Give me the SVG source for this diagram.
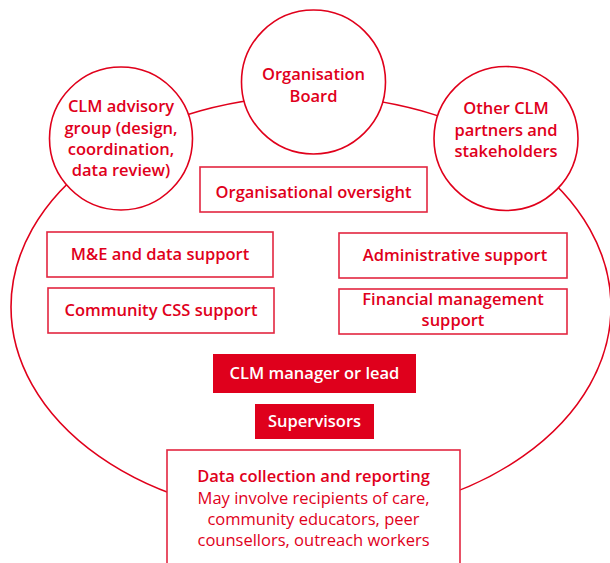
<svg xmlns="http://www.w3.org/2000/svg" width="610" height="563" viewBox="0 0 610 563">
<style>
text{font-family:"Open Sans","Liberation Sans",sans-serif;fill:#E0001B;text-anchor:middle;font-weight:600;font-size:16.5px}
.c{fill:#fff;stroke:#E0001B;stroke-width:1.6}
.r{fill:#fff;stroke:#E32640;stroke-width:1.6}
.f{fill:#DF001C}
.w{fill:#fff}
.n{font-weight:400}
.ring{fill:none;stroke:#E0001B;stroke-width:1.6}
</style>
<rect width="610" height="563" fill="#fff"/>
<g id="connectors">
<ellipse class="ring" cx="311" cy="307" rx="300" ry="211"/>
</g>
<g id="advisory">
<circle class="c" cx="121" cy="138.5" r="71.5"/>
<text x="121" y="112">CLM advisory</text>
<text x="121" y="134">group (design,</text>
<text x="121" y="155">coordination,</text>
<text x="121" y="176">data review)</text>
</g>
<g id="board">
<circle class="c" cx="313.5" cy="82" r="72"/>
<text x="313.5" y="80">Organisation</text>
<text x="313.5" y="102">Board</text>
</g>
<g id="partners">
<circle class="c" cx="506" cy="138.5" r="72"/>
<text x="506" y="114">Other CLM</text>
<text x="506" y="136">partners and</text>
<text x="506" y="157">stakeholders</text>
</g>
<g id="oversight">
<rect class="r" x="200" y="167" width="227" height="45"/>
<text x="313.5" y="198">Organisational oversight</text>
</g>
<g id="me">
<rect class="r" x="47" y="232" width="226" height="45"/>
<text x="160" y="260">M&amp;E and data support</text>
</g>
<g id="css">
<rect class="r" x="48" y="288" width="226" height="45"/>
<text x="161" y="316">Community CSS support</text>
</g>
<g id="admin">
<rect class="r" x="339" y="233" width="228" height="45"/>
<text x="455" y="261">Administrative support</text>
</g>
<g id="finance">
<rect class="r" x="339" y="289" width="228" height="45"/>
<text x="453" y="305">Financial management</text>
<text x="453" y="326">support</text>
</g>
<g id="manager">
<rect class="f" x="213" y="354" width="203" height="39"/>
<text class="w" x="314.5" y="379">CLM manager or lead</text>
</g>
<g id="supervisors">
<rect class="f" x="255" y="404" width="119" height="35"/>
<text class="w" x="314.5" y="427">Supervisors</text>
</g>
<g id="datacollection">
<rect class="r" x="167" y="450" width="293" height="120"/>
<text x="313.5" y="482">Data collection and reporting</text>
<text class="n" x="313.5" y="503.5">May involve recipients of care,</text>
<text class="n" x="313.5" y="524.5">community educators, peer</text>
<text class="n" x="313.5" y="545.5">counsellors, outreach workers</text>
</g>
</svg>
